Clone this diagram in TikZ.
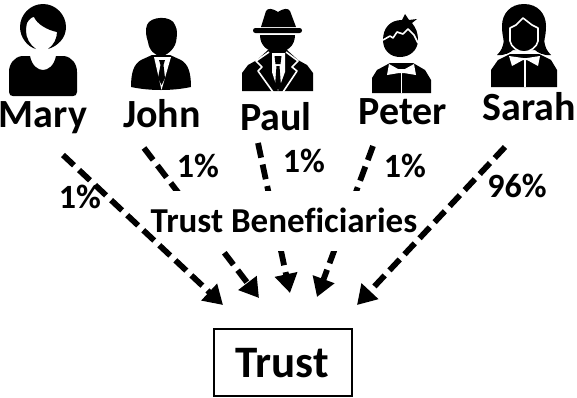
\documentclass[tikz,border=0pt]{standalone}
\usepackage{fontspec}
\setmainfont[Ligatures=NoCommon]{Carlito}
\usetikzlibrary{arrows.meta}
\tikzset{
  personname/.style={font=\fontsize{40}{40}\selectfont\bfseries,anchor=base,inner sep=0pt},
  pct/.style={font=\fontsize{34}{34}\selectfont\bfseries,anchor=base,inner sep=0pt},
  conn/.style={line width=5.8pt,dash pattern=on 15pt off 7pt,-{Triangle[length=19pt,width=22pt]}},
  ink/.style={fill=black,draw=none},
  paper/.style={fill=white,draw=none},
  cut/.style={draw=white,line width=1.6pt,line join=round,fill=none}
}
\begin{document}
\begin{tikzpicture}[x=1pt,y=-1pt]
\useasboundingbox (0,0) rectangle (577,397);
% Mary icon
\fill[ink] (43,4) .. controls (30,4) and (20,15) .. (20,27) .. controls (20,38) and (28,47) .. (36,49) .. controls (30,45) and (26,38) .. (26,31) .. controls (26,27) and (27,23) .. (27,23) .. controls (29,19) and (32,17) .. (34,17) .. controls (37,24) and (47,30) .. (57,32) .. controls (57,38) and (54,45) .. (48,49) .. controls (58,46) and (66,38) .. (66,27) .. controls (66,15) and (56,4) .. (43,4) -- cycle;
\fill[ink] (30,56) .. controls (32,66) and (38,70) .. (43,70) .. controls (48,70) and (54,66) .. (56,56) -- (64,56) .. controls (72,57) and (77,64) .. (77,72) -- (77,92) .. controls (77,95) and (75,96) .. (73,96) -- (13,96) .. controls (11,96) and (9,95) .. (9,92) -- (9,72) .. controls (9,64) and (14,57) .. (22,56) -- cycle;
% John icon
\fill[ink] (147,25) .. controls (150,16) and (172,15) .. (175,25) .. controls (178,30) and (177,36) .. (176,42) .. controls (174,50) and (166,56) .. (161,56) .. controls (155,56) and (149,50) .. (148,42) .. controls (146,36) and (145,30) .. (147,25) -- cycle;
\fill[ink] (152,55) -- (141,60) .. controls (134,64) and (131,72) .. (131,87) .. controls (150,91) and (172,91) .. (191,87) .. controls (191,72) and (188,64) .. (181,60) -- (170,55) -- cycle;
\fill[paper] (154,57) -- (171,57) -- (161.5,90) -- cycle;
\fill[ink] (159,60) -- (165,60) -- (163.5,65) -- (165,78) -- (161.5,85) -- (158,78) -- (160.5,65) -- cycle;
% Paul icon
\fill[ink] (261,27) -- (266,11) .. controls (268,8) and (272,8) .. (278,12) .. controls (284,8) and (288,8) .. (290,11) -- (296,27) -- cycle;
\fill[ink,rounded corners=2.4pt] (253,28) rectangle (302,33);
\fill[ink] (260,35) -- (295,35) .. controls (295,46) and (287,52) .. (278,52) .. controls (268,52) and (260,46) .. (260,35) -- cycle;
\fill[ink] (242,91) -- (242,73) -- (248,65) -- (257,60) -- (268,50) -- (287,50) -- (298,60) -- (307,65) -- (313,73) -- (313,91) -- cycle;
\draw[cut] (269,52) -- (256,61) -- (262,67) -- (258,71) -- (273,92);
\draw[cut] (286,52) -- (298,61) -- (292,67) -- (297,71) -- (283,92);
\fill[paper] (272,53) -- (285,53) -- (285,72) -- (278,91) -- (272,72) -- cycle;
\fill[ink] (274.5,56) -- (281.5,56) -- (280.5,64) -- (275.5,64) -- cycle;
\fill[ink] (276.5,66) -- (279.5,66) -- (281,86) -- (278,90) -- (275,86) -- cycle;
% Peter icon
\fill[ink] (383,40) .. controls (383,28) and (390,20) .. (402,20) -- (405,14) -- (409,20) -- (417,19) -- (412,23) .. controls (416,28) and (418,33) .. (418,40) .. controls (418,50) and (410,57) .. (400,57) .. controls (390,57) and (383,50) .. (383,40) -- cycle;
\draw[cut] (383,40) -- (390,36) -- (393,38) -- (397,32) -- (403,34) -- (408,29) -- (414,35) -- (418,43);
\fill[ink] (372,93) -- (372,78) -- (377,70) -- (390,63) -- (413,63) -- (425,70) -- (431,80) -- (431,93) -- cycle;
\fill[paper] (387,75) -- (389,64) -- (398,69) -- (405,69) -- (414,64) -- (416,75) -- (404,73) -- (399,73) -- cycle;
\fill[paper] (400.6,72) rectangle (402.2,93);
% Sarah icon
\fill[ink] (524,4) .. controls (510,4) and (502,14) .. (502,26) .. controls (502,38) and (505,40) .. (503,45) .. controls (502,50) and (498,54) .. (497,55) .. controls (505,56) and (511,52) .. (513,50) -- (535,50) .. controls (537,52) and (543,56) .. (551,55) .. controls (550,54) and (546,50) .. (545,45) .. controls (543,40) and (546,38) .. (546,26) .. controls (546,14) and (538,4) .. (524,4) -- cycle;
\fill[ink] (523,18) -- (516,25) -- (510,28) -- (510,41) .. controls (511,47) and (518,52) .. (524,52) .. controls (530,52) and (537,47) .. (538,41) -- (538,28) -- (532,25) -- cycle;
\draw[cut] (523,18) -- (516,25) -- (510,28) -- (510,41) .. controls (511,47) and (518,52) .. (524,52) .. controls (530,52) and (537,47) .. (538,41) -- (538,28) -- (532,25) -- cycle;
\draw[draw=white,line width=1.2pt] (505,55) .. controls (512,54) and (513,52) .. (514,51) (543,55) .. controls (536,54) and (535,52) .. (534,51);
\fill[ink] (491,87) -- (491,70) -- (498,60) -- (510,54) -- (539,54) -- (551,60) -- (557,70) -- (557,87) -- cycle;
\fill[paper] (509,56) -- (512,66) -- (523,60) -- (527,60) -- (538,66) -- (540,56) -- (527,58) -- (523,58) -- cycle;
\fill[paper] (524,60) rectangle (525.6,87);
% Coordinates
\coordinate (johnout) at (144,148);
\coordinate (paulout) at (258,143);
\coordinate (peterout) at (373,146);
\coordinate (maryout) at (63,155);
\coordinate (sarahout) at (505,147);
\coordinate (maryin) at (223,305);
\coordinate (johnin) at (259,298);
\coordinate (paulin) at (290,293);
\coordinate (peterin) at (317,297);
\coordinate (sarahin) at (357,305);
% Connectors hidden by the caption
\draw[conn] (johnout) -- (johnin);
\draw[conn] (paulout) -- (paulin);
\draw[conn] (peterout) -- (peterin);
\node[fill=white,minimum width=270pt,minimum height=60pt,inner sep=0pt] (caption) at (284,221) {};
\node[font=\fontsize{35}{35}\selectfont\bfseries,anchor=base,inner sep=0pt] (captiontext) at (284,232) {Trust Beneficiaries};
\draw[conn] (maryout) -- (maryin);
\draw[conn] (sarahout) -- (sarahin);
% Names
\node[personname] (mary) at (43,127) {Mary};
\node[personname] (john) at (162,127) {John};
\node[personname] (paul) at (276,130) {Paul};
\node[personname] (peter) at (403,124) {Peter};
\node[personname] (sarah) at (529,120) {Sarah};
% Percentages
\node[pct] (pmary) at (80,208) {1\%};
\node[pct] (pjohn) at (198,177) {1\%};
\node[pct] (ppaul) at (304,172) {1\%};
\node[pct] (ppeter) at (405,177) {1\%};
\node[pct] (psarah) at (517,197) {96\%};
% Trust
\node[draw=black,line width=2pt,minimum width=138pt,minimum height=67pt,inner sep=0pt] (trust) at (282.5,362) {};
\node[font=\fontsize{45}{45}\selectfont\bfseries,anchor=base,inner sep=0pt] (trusttext) at (282,377) {Trust};
\end{tikzpicture}
\end{document}
